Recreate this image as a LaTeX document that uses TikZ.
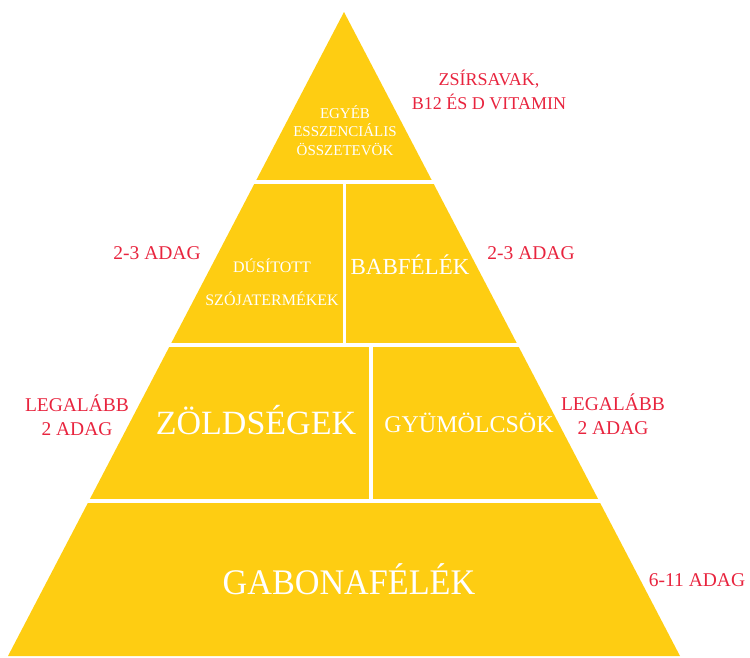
\documentclass[tikz,border=0pt]{standalone}
\usepackage{fontspec}
\setmainfont{Liberation Serif}
\usepackage{xcolor}
\definecolor{pyellow}{RGB}{254,205,18}
\definecolor{dred}{RGB}{232,36,62}
\usetikzlibrary{calc}

\begin{document}
\begin{tikzpicture}[
  x=1pt,y=-1pt,
  tier/.style={fill=pyellow,draw=none},
  gap/.style={draw=white,line width=4pt},
  lbl/.style={text=white,inner sep=0pt,anchor=base,align=center},
  note/.style={text=dred,inner sep=0pt,anchor=base,align=center,font=\fontsize{19.5}{23.5}\selectfont}
]
  \useasboundingbox (0,0) rectangle (750,657);

  % pyramid outline
  \coordinate (apex) at (344,12);
  \coordinate (bl) at (8,656);
  \coordinate (br) at (680,656);
  \fill[tier] (apex) -- (br) -- (bl) -- cycle;

  % white gaps between the tiers
  \draw[gap] ($(apex)!0.264!(bl)+(-6,0)$) -- ($(apex)!0.264!(br)+(6,0)$);
  \draw[gap] ($(apex)!0.517!(bl)+(-6,0)$) -- ($(apex)!0.517!(br)+(6,0)$);
  \draw[gap] ($(apex)!0.759!(bl)+(-6,0)$) -- ($(apex)!0.759!(br)+(6,0)$);
  \draw[gap,line width=3pt] (344.5,183) -- (344.5,345);
  \draw[gap] (371,346) -- (371,501);

  % tier labels (base = last line)
  \node[lbl,font=\fontsize{15}{18.5}\selectfont] (top) at (345,155)
    {EGYÉB\\ESSZENCIÁLIS\\ÖSSZETEVÖK};
  \node[lbl,font=\fontsize{16}{33}\selectfont] (soy) at (272,305)
    {DÚSÍTOTT\\SZÓJATERMÉKEK};
  \node[lbl,font=\fontsize{23}{28}\selectfont] (bean) at (410,274) {BABFÉLÉK};
  \node[lbl,font=\fontsize{34}{40}\selectfont] (veg) at (256,434) {ZÖLDSÉGEK};
  \node[lbl,font=\fontsize{24}{28}\selectfont] (fruit) at (469,432) {GYÜMÖLCSÖK};
  \node[lbl,font=\fontsize{36}{40}\selectfont,xscale=0.95] (grain) at (349,594) {GABONAFÉLÉK};

  % serving notes
  \node[note,font=\fontsize{18}{24}\selectfont] (fat) at (489,109) {ZSÍRSAVAK,\\B12 ÉS D VITAMIN};
  \node[note] (soyq) at (157,259) {2-3 ADAG};
  \node[note] (beanq) at (531,259) {2-3 ADAG};
  \node[note] (vegq) at (77,435) {LEGALÁBB\\2 ADAG};
  \node[note] (fruitq) at (613,434) {LEGALÁBB\\2 ADAG};
  \node[note] (grainq) at (697,586) {6-11 ADAG};
\end{tikzpicture}
\end{document}
